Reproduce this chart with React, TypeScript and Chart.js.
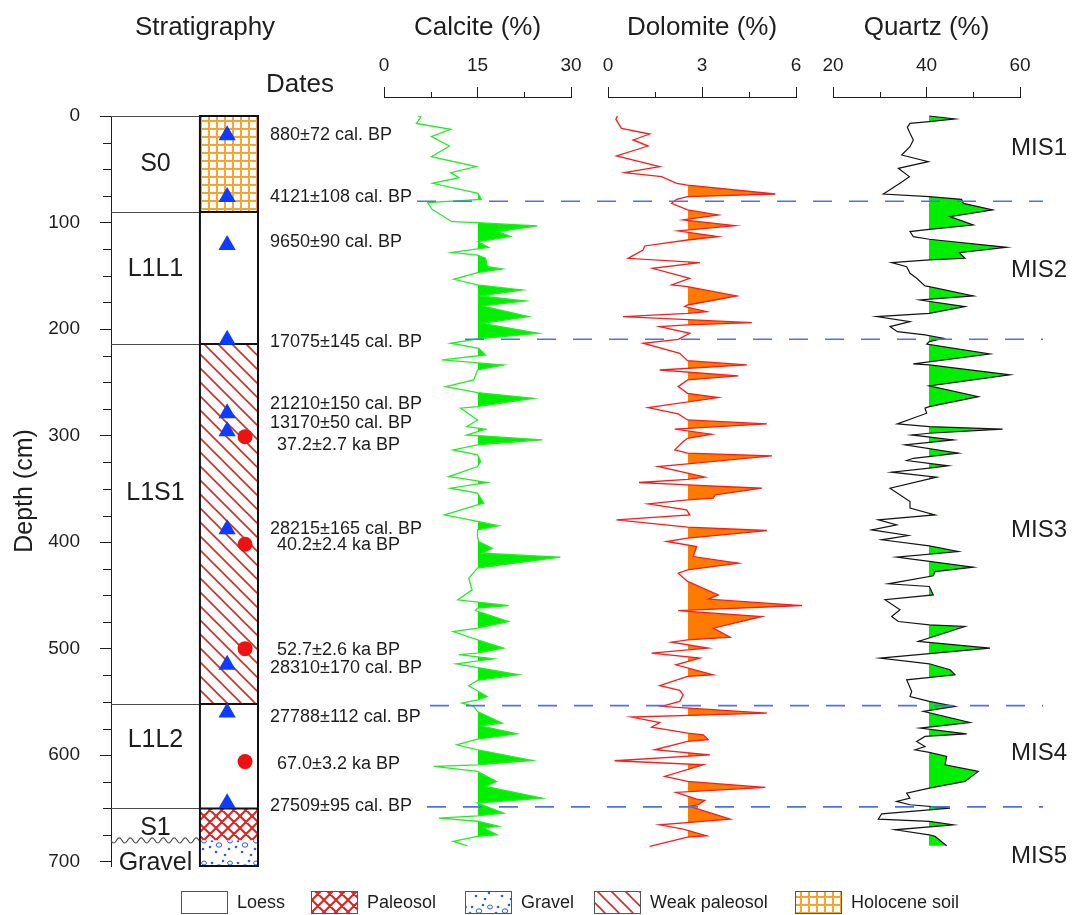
import React, { useEffect, useRef } from 'react';
import { Chart, registerables } from 'chart.js';

Chart.register(...registerables);

const FONT = '"Liberation Sans", Arial, Helvetica, sans-serif';
const INK = '#1e1e1e';
const W = 1075;
const H = 915;
Chart.defaults.font.family = FONT;
Chart.defaults.color = INK;

// ---------------- depth axis ----------------
const depthMax = 704;
const depthTickValues = [0, 25, 50, 75, 100, 125, 150, 175, 200, 225, 250, 275, 300, 325, 350, 375, 400, 425, 450, 475, 500, 525, 550, 575, 600, 625, 650, 675, 700];
const depthTickLabels = [0, 100, 200, 300, 400, 500, 600, 700];

// ---------------- stratigraphy ----------------
const layerNames = ['S0', 'L1L1', 'L1S1', 'L1L2', 'S1', 'Gravel'];
const layerTop = [0, 90, 214, 552, 650, 680];
const layerBottom = [90, 214, 552, 650, 680, 704];
const layerLithology = ['holocene', 'loess', 'weak', 'loess', 'paleosol', 'gravel'];
const layerContact = ['sharp', 'sharp', 'sharp', 'sharp', 'sharp', 'wavy'];
const layerLabelDepth = [45, 144, 354, 586, 668, 701];

// ---------------- dating ----------------
const c14Depth = [18, 76, 121, 210, 279, 296, 388, 515, 560, 645];
const c14Labels = ['880±72 cal. BP', '4121±108 cal. BP', '9650±90 cal. BP', '17075±145 cal. BP', '21210±150 cal. BP', '13170±50 cal. BP', '28215±165 cal. BP', '28310±170 cal. BP', '27788±112 cal. BP', '27509±95 cal. BP'];
const c14LabelDepth = [17.8, 76, 118.2, 212, 270.2, 288.1, 387.5, 518, 564, 647.5];
const oslDepth = [301, 402, 500, 606];
const oslLabels = ['37.2±2.7 ka BP', '40.2±2.4 ka BP', '52.7±2.6 ka BP', '67.0±3.2 ka BP'];
const oslLabelDepth = [308.7, 402.6, 501.1, 608];

// ---------------- MIS ----------------
const misLabels = ['MIS1', 'MIS2', 'MIS3', 'MIS4', 'MIS5'];
const misLabelDepth = [30, 145, 389, 598, 695];
const misBoundaryDepth = [80, 209.5, 553.5, 648.5];

// ---------------- legend ----------------
const legendLabels = ['Loess', 'Paleosol', 'Gravel', 'Weak paleosol', 'Holocene soil'];
const legendKinds = ['loess', 'paleosol', 'gravel', 'weak', 'holocene'];

// ---------------- profiles: [depth (cm), value (%)] ----------------
const calciteProfile: [number, number][] = [
  [0, 5.5], [1, 5.9], [7, 5.2], [12.5, 10.7], [19.4, 7.6], [28.2, 10.5], [38.2, 7.6], [47.5, 14.8], [53.2, 10.7], [57.9, 12.0],
  [63.2, 7.8], [72.6, 15.1], [78.2, 15.6], [81.3, 7.0], [87.6, 7.7], [99.2, 10.9], [100.1, 15.0], [103.2, 24.6], [108.5, 18.3], [113.2, 20.3],
  [118, 15.1], [123.3, 16.8], [128, 10.9], [130.5, 15.0], [133.6, 16.3], [141.4, 16.6], [143.6, 19.0], [147, 15.0], [153.3, 11.2], [158.6, 15.0],
  [163.3, 22.2], [168.9, 15.5], [173.6, 22.7], [178.3, 15.75], [188.3, 23.2], [194.6, 15.75], [204, 24.8], [209.3, 15.0], [213.3, 10.7], [218, 15.2],
  [224.3, 16.3], [229, 9.3], [233.7, 19.2], [238.4, 15.0], [247.7, 14.4], [254, 9.9], [259.6, 15.0], [265, 24.0], [272.8, 15.0], [274.3, 12.3],
  [285.3, 15.0], [291.5, 13.3], [294, 16.3], [299.4, 13.3], [304, 25.4], [308.7, 15.0], [313.4, 11.1], [318.1, 15.0], [324.3, 15.5], [329, 15.0],
  [338.4, 10.4], [344, 16.55], [349.4, 10.67], [354, 15.0], [358.7, 15.5], [363.4, 16.0], [365, 15.0], [374.4, 9.7], [380.6, 15.0], [384.7, 18.4],
  [388.5, 15.0], [394.7, 15.0], [399.4, 15.2], [405.7, 17.35], [410.4, 15.75], [414.1, 28.3], [424.4, 15.0], [433.8, 13.6], [440, 13.88], [444.8, 14.14],
  [454.1, 11.84], [459.5, 20.0], [462, 15.0], [464.2, 14.68], [474.5, 20.0], [480.7, 15.0], [483.9, 11.1], [491.7, 15.0], [499.5, 19.2], [504.2, 15.0],
  [505.5, 12.0], [509.5, 17.6], [514.2, 11.6], [524.5, 21.6], [529.8, 15.0], [534.8, 13.6], [544.9, 16.55], [548, 15.0], [551.1, 12.5], [554.2, 14.4],
  [559, 15.0], [569.9, 18.96], [572.4, 15.5], [579.9, 21.36], [584.9, 15.0], [590.2, 11.7], [594.9, 15.0], [604.9, 23.8], [609, 15.0], [610.5, 8.0],
  [615.2, 15.0], [624.6, 18.05], [629.3, 16.3], [640.3, 25.4], [644.9, 15.0], [654.3, 19.2], [657, 15.0], [659, 8.8], [662, 15.0], [666.8, 18.4],
  [668.4, 16.0], [674.7, 18.15], [676.2, 15.0], [680.9, 11.1], [685, 13.4],
];

const dolomiteProfile: [number, number][] = [
  [0, 0.3], [3, 0.25], [11.6, 0.43], [16.9, 1.33], [22.5, 0.8], [28.2, 1.28], [37.5, 0.27], [47.5, 1.65], [53.2, 0.53], [56.9, 1.71],
  [63.2, 2.19], [64.8, 2.54], [73.2, 5.34], [75.7, 2.54], [78.2, 2.19], [82, 2.03], [88.2, 2.54], [92.9, 3.52], [97.6, 2.4], [102.9, 4.06],
  [107.9, 2.24], [113.2, 3.52], [116.4, 2.54], [122, 1.17], [125.8, 1.12], [133.6, 0.64], [137.6, 2.93], [143, 1.42], [152.3, 2.61], [158.6, 2.03],
  [160.2, 2.54], [168.9, 4.11], [177.4, 2.54], [178.9, 2.45], [183.6, 3.15], [185.2, 2.54], [188.3, 0.48], [194, 4.59], [196.1, 2.54], [197.7, 1.65],
  [204, 2.61], [209.6, 2.24], [213.3, 1.12], [222.7, 2.29], [229.6, 2.54], [233.7, 4.43], [238.4, 1.65], [244, 4.16], [247.7, 2.54], [254, 2.24],
  [260.3, 2.54], [264.3, 3.52], [273.7, 1.28], [279.6, 2.24], [285.3, 2.54], [289, 5.07], [294, 2.13], [298.7, 3.31], [302.5, 2.54], [305.6, 2.4],
  [313.4, 2.13], [316.5, 2.54], [319, 5.23], [326.5, 2.54], [329, 1.6], [335.3, 2.54], [339, 3.09], [341, 2.54], [344, 0.99], [346.2, 2.54],
  [349.4, 4.91], [355.6, 3.42], [358.7, 3.36], [360.3, 2.54], [364.1, 1.28], [369.7, 2.51], [374.4, 2.61], [379.1, 0.27], [386, 2.54], [389.1, 5.07],
  [396.3, 2.54], [399.4, 1.87], [404.1, 2.83], [413.5, 2.72], [419.7, 4.16], [426, 2.54], [429.1, 2.24], [436.9, 2.54], [449.5, 3.52], [453.5, 3.2],
  [459.5, 6.19], [464.2, 2.24], [469.8, 4.91], [480.7, 3.36], [489.2, 3.9], [491.7, 2.54], [493.9, 2.03], [499.5, 3.2], [504.2, 1.39], [508.9, 2.93],
  [515.1, 2.17], [524.5, 3.36], [526.1, 2.54], [534.8, 1.65], [539.2, 2.29], [543.3, 2.4], [549.5, 2.29], [554.2, 1.71], [560.5, 5.07], [564.2, 0.75],
  [569.3, 1.65], [573.6, 1.39], [579.3, 2.54], [580.8, 3.04], [585.5, 3.2], [587.1, 2.54], [594.9, 1.49], [599.6, 3.25], [605.2, 0.21], [609, 3.04],
  [619.9, 1.81], [624.6, 2.54], [630.2, 5.02], [634.9, 2.17], [641.2, 2.83], [642.4, 3.09], [646.5, 2.88], [648.1, 2.61], [660, 3.9], [665.3, 1.65],
  [669.3, 2.4], [675.6, 3.15], [676.9, 2.54], [685.6, 1.33],
];

const quartzProfile: [number, number][] = [
  [0, 40.6], [2.8, 46.1], [5.3, 40.6], [6.9, 36.47], [10.6, 35.9], [16.3, 36.47], [22.5, 37.18], [28.8, 36.47], [36.6, 34.69], [42.9, 40.39],
  [49.1, 33.97], [56.9, 36.33], [63.2, 34.33], [73.2, 30.77], [75.7, 40.6], [78.2, 47.5], [82, 47.88], [88.2, 54.15], [94.5, 45.03], [102.3, 50.02],
  [106.4, 40.6], [108.5, 36.47], [113.2, 37.18], [115.7, 40.6], [123.3, 57.15], [128.3, 47.02], [133.6, 48.24], [135.1, 40.6], [137.6, 32.55], [141.4, 35.76],
  [147.7, 36.47], [152.3, 37.9], [159.5, 39.68], [160.2, 40.6], [168.9, 50.02], [172.7, 38.6], [178.9, 48.24], [185.2, 40.6], [188.3, 29.34], [193, 36.47],
  [197.7, 32.19], [202.4, 33.76], [205.5, 39.68], [208.6, 43.6], [211.8, 40.6], [214, 40.04], [223.4, 53.58], [232.7, 37.18], [233.7, 40.6], [243, 57.86],
  [253.4, 40.6], [263.4, 51.09], [272.8, 40.6], [274.3, 39.68], [279, 40.04], [289, 33.76], [291.5, 40.6], [294, 56.29], [297.8, 40.6], [299.4, 36.83],
  [304, 45.74], [308.7, 35.4], [316.5, 46.8], [321.3, 37.18], [323.4, 35.76], [328.4, 44.67], [330.6, 40.6], [334.3, 32.55], [339, 42.17], [349.4, 32.19],
  [361.9, 36.47], [368.1, 36.47], [374.4, 41.82], [379.1, 29.7], [383.8, 33.62], [388.5, 28.27], [393.8, 36.11], [397.8, 30.41], [403.5, 40.6], [408.8, 46.8],
  [414.1, 33.62], [418, 40.6], [423.5, 50.02], [427.6, 41.82], [431.6, 41.46], [439.1, 31.84], [441.6, 40.6], [449.5, 41.46], [454.1, 31.12], [463.5, 34.33],
  [469.8, 32.55], [474.5, 33.97], [477.6, 40.6], [479.2, 48.24], [493.2, 38.25], [499.5, 53.58], [508.9, 30.05], [514.2, 40.6], [519.8, 45.03], [524.5, 46.1],
  [529.2, 35.76], [540.2, 36.83], [544.9, 36.47], [548, 39.32], [549.5, 40.6], [554.2, 46.1], [558.9, 39.32], [569.3, 49.3], [574.6, 38.6], [579.9, 48.59],
  [582.4, 39.68], [587.1, 37.9], [591.8, 39.68], [594.9, 37.54], [597.4, 40.6], [601.2, 44.31], [609, 43.96], [615.2, 51.09], [624.6, 48.24], [630.9, 40.6],
  [635.6, 35.76], [640.3, 36.47], [643.4, 33.62], [646.5, 36.47], [649.6, 45.03], [655, 30.41], [660, 29.7], [662.2, 40.6], [665.3, 45.74], [670, 33.26],
  [674.7, 40.6], [676.2, 41.82], [685, 44.31],
];

const calciteTicks = [0, 7.5, 15, 22.5, 30];
const calciteTickLabels = [0, 15, 30];
const dolomiteTicks = [0, 1.5, 3, 4.5, 6];
const dolomiteTickLabels = [0, 3, 6];
const quartzTicks = [20, 30, 40, 50, 60];
const quartzTickLabels = [20, 40, 60];
const calciteBaseline = 15;
const dolomiteBaseline = 2.54;
const quartzBaseline = 40.6;

// ---------------- layout (pixels) ----------------
const AXIS_LINE_Y = 97;
const DEPTH0_Y = 116;
const PLOT_BOTTOM_Y = 866;
const PROFILE_YMIN = -((DEPTH0_Y - AXIS_LINE_Y) * depthMax) / (PLOT_BOTTOM_Y - DEPTH0_Y);
const STRAT_LEFT = 111;
const STRAT_RIGHT = 258;
const COL_SPLIT = 0.605;
const C14_X = 0.79;
const OSL_X = 0.912;
const LEGEND_X = [181, 311, 465, 594, 795];
const DASH_START_X = [417, 465, 430, 427];
const DASH_END_X = 1043;
const MIS_X = 1011;
const TITLE_SIZE = 26;

const profiles = [
  { title: 'Calcite (%)', data: calciteProfile, ticks: calciteTicks, labels: calciteTickLabels, base: calciteBaseline, left: 384, right: 571, line: '#22ee22', fill: '#00f000', lw: 1.3 },
  { title: 'Dolomite (%)', data: dolomiteProfile, ticks: dolomiteTicks, labels: dolomiteTickLabels, base: dolomiteBaseline, left: 608, right: 796, line: '#ff1a1a', fill: '#ff7a00', lw: 1.3 },
  { title: 'Quartz (%)', data: quartzProfile, ticks: quartzTicks, labels: quartzTickLabels, base: quartzBaseline, left: 833, right: 1020, line: '#141414', fill: '#00ee00', lw: 1.2 },
];

// ---------------- patterns ----------------
function makeTile(w: number, h: number, draw: (g: CanvasRenderingContext2D) => void) {
  const c = document.createElement('canvas');
  c.width = w;
  c.height = h;
  const g = c.getContext('2d')!;
  g.fillStyle = '#ffffff';
  g.fillRect(0, 0, w, h);
  draw(g);
  return c;
}

function buildPatterns(ctx: CanvasRenderingContext2D): Record<string, any> {
  const holocene = makeTile(8, 8, (g) => {
    g.fillStyle = '#f7a332';
    g.fillRect(0, 0, 8, 2);
    g.fillRect(0, 0, 2, 8);
  });
  const weak = makeTile(14, 14, (g) => {
    g.strokeStyle = '#e8261c';
    g.lineWidth = 1.6;
    g.beginPath();
    for (const k of [-14, 0, 14]) {
      g.moveTo(-2, -2 + k);
      g.lineTo(16, 16 + k);
    }
    g.stroke();
  });
  const paleosol = makeTile(12, 12, (g) => {
    g.strokeStyle = '#e3201b';
    g.lineWidth = 2;
    g.beginPath();
    for (const k of [-12, 0, 12]) {
      g.moveTo(-2, -2 + k);
      g.lineTo(14, 14 + k);
      g.moveTo(-2, 14 + k);
      g.lineTo(14, -2 + k);
    }
    g.stroke();
  });
  const gravel = makeTile(26, 22, (g) => {
    g.fillStyle = '#2a5cf0';
    for (const [x, y] of [[4, 5], [15, 3], [21, 13], [8, 16], [17, 19], [2, 11]]) {
      g.beginPath();
      g.arc(x, y, 1.3, 0, Math.PI * 2);
      g.fill();
    }
    g.strokeStyle = '#2a5cf0';
    g.lineWidth = 1;
    g.beginPath();
    g.ellipse(11, 9, 2.8, 2.2, 0, 0, Math.PI * 2);
    g.stroke();
    g.beginPath();
    g.ellipse(22, 5, 2.4, 2, 0, 0, Math.PI * 2);
    g.stroke();
  });
  return {
    loess: '#ffffff',
    holocene: ctx.createPattern(holocene, 'repeat'),
    weak: ctx.createPattern(weak, 'repeat'),
    paleosol: ctx.createPattern(paleosol, 'repeat'),
    gravel: ctx.createPattern(gravel, 'repeat'),
  };
}

// ---------------- plugins ----------------
const minorTicksPlugin = {
  id: 'minorTicks',
  afterDraw(chart: any, _args: any, opts: any) {
    if (!opts || !opts.values) return;
    const s = chart.scales[opts.axis];
    const ctx = chart.ctx;
    ctx.save();
    ctx.strokeStyle = opts.color;
    ctx.lineWidth = 1;
    ctx.beginPath();
    for (const v of opts.values) {
      const p = Math.round(s.getPixelForValue(v)) + 0.5;
      if (s.isHorizontal()) {
        ctx.moveTo(p, s.bottom);
        ctx.lineTo(p, s.bottom - opts.length);
      } else {
        ctx.moveTo(s.right, p);
        ctx.lineTo(s.right - opts.length, p);
      }
    }
    ctx.stroke();
    ctx.restore();
  },
};

const baselineFillPlugin = {
  id: 'baselineFill',
  beforeDatasetsDraw(chart: any, _args: any, opts: any) {
    if (!opts || opts.base === undefined) return;
    const meta = chart.getDatasetMeta(0);
    const pts = meta.data;
    if (!pts.length) return;
    const ctx = chart.ctx;
    const bx = Math.round(chart.scales.x.getPixelForValue(opts.base));
    const area = chart.chartArea;
    ctx.save();
    ctx.beginPath();
    ctx.rect(bx, Math.floor(area.top), W - bx, Math.ceil(area.bottom - area.top));
    ctx.clip();
    ctx.beginPath();
    ctx.moveTo(bx - 2, pts[0].y);
    for (const p of pts) ctx.lineTo(p.x, p.y);
    ctx.lineTo(bx - 2, pts[pts.length - 1].y);
    ctx.closePath();
    ctx.fillStyle = opts.color;
    ctx.fill();
    ctx.restore();
  },
};

function text(ctx: CanvasRenderingContext2D, s: string, x: number, y: number, size: number, align: CanvasTextAlign = 'left') {
  ctx.font = `${size}px ${FONT}`;
  ctx.fillStyle = INK;
  ctx.textAlign = align;
  ctx.textBaseline = 'middle';
  ctx.fillText(s, x, y);
}

function stratPlugin(patterns: Record<string, any>) {
  return {
    id: 'strat',
    beforeDatasetsDraw(chart: any) {
      const ctx: CanvasRenderingContext2D = chart.ctx;
      const xs = chart.scales.x;
      const ys = chart.scales.y;
      const xL = xs.getPixelForValue(0);
      const xM = xs.getPixelForValue(COL_SPLIT);
      const xR = xs.getPixelForValue(1);
      ctx.save();
      layerTop.forEach((t, i) => {
        const y1 = ys.getPixelForValue(t);
        const y2 = ys.getPixelForValue(layerBottom[i]);
        ctx.fillStyle = patterns[layerLithology[i]];
        ctx.fillRect(xM, y1, xR - xM, y2 - y1);
      });
      ctx.strokeStyle = '#4a4a4a';
      ctx.lineWidth = 1.1;
      layerTop.forEach((t, i) => {
        const y = ys.getPixelForValue(t);
        ctx.beginPath();
        if (layerContact[i] === 'wavy') {
          for (let x = xL; x <= xM; x += 1) {
            const yy = y + 2.6 * Math.sin(((x - xL) / 11) * Math.PI * 2);
            if (x === xL) ctx.moveTo(x, yy);
            else ctx.lineTo(x, yy);
          }
        } else {
          ctx.moveTo(xL, Math.round(y) + 0.5);
          ctx.lineTo(xM, Math.round(y) + 0.5);
        }
        ctx.stroke();
      });
      ctx.strokeStyle = '#111';
      ctx.lineWidth = 2;
      layerTop.forEach((t, i) => {
        if (layerContact[i] === 'wavy') return;
        const y = ys.getPixelForValue(t);
        ctx.beginPath();
        ctx.moveTo(xM, y);
        ctx.lineTo(xR, y);
        ctx.stroke();
      });
      const yTop = ys.getPixelForValue(layerTop[0]);
      const yBot = ys.getPixelForValue(layerBottom[layerBottom.length - 1]);
      ctx.strokeRect(xM, yTop, xR - xM, yBot - yTop);
      layerNames.forEach((n, i) => {
        text(ctx, n, (xL + xM) / 2, ys.getPixelForValue(layerLabelDepth[i]), 25, 'center');
      });
      ctx.restore();
    },
    afterDraw(chart: any) {
      const ctx: CanvasRenderingContext2D = chart.ctx;
      const xs = chart.scales.x;
      const ys = chart.scales.y;
      const xR = xs.getPixelForValue(1);
      ctx.save();
      text(ctx, 'Stratigraphy', 205, 28, TITLE_SIZE, 'center');
      text(ctx, 'Dates', 266, 85, TITLE_SIZE, 'left');
      c14Labels.forEach((s, i) => text(ctx, s, xR + 12, ys.getPixelForValue(c14LabelDepth[i]), 18));
      oslLabels.forEach((s, i) => text(ctx, s, xR + 19, ys.getPixelForValue(oslLabelDepth[i]), 18));
      legendLabels.forEach((s, i) => {
        const x = LEGEND_X[i];
        const y = 891;
        ctx.fillStyle = patterns[legendKinds[i]];
        ctx.fillRect(x, y, 46, 22);
        ctx.strokeStyle = '#555';
        ctx.lineWidth = 1;
        ctx.strokeRect(x + 0.5, y + 0.5, 46, 22);
        text(ctx, s, x + 56, y + 12, 18);
      });
      ctx.restore();
    },
  };
}

const overlayPlugin = {
  id: 'overlay',
  afterDatasetsDraw(chart: any) {
    const ctx: CanvasRenderingContext2D = chart.ctx;
    const ys = chart.scales.y;
    ctx.save();
    ctx.strokeStyle = '#4d70ee';
    ctx.lineWidth = 1.6;
    ctx.setLineDash([19, 17]);
    misBoundaryDepth.forEach((d, i) => {
      const y = ys.getPixelForValue(d);
      ctx.beginPath();
      ctx.moveTo(DASH_START_X[i], y);
      ctx.lineTo(DASH_END_X, y);
      ctx.stroke();
    });
    ctx.setLineDash([]);
    misLabels.forEach((s, i) => text(ctx, s, MIS_X, ys.getPixelForValue(misLabelDepth[i]), 24));
    ctx.restore();
  },
};

// ---------------- configs ----------------
function stratConfig(patterns: Record<string, any>): any {
  const minor = depthTickValues.filter((v) => !depthTickLabels.includes(v));
  return {
    type: 'scatter',
    data: {
      datasets: [
        {
          data: c14Depth.map((d) => ({ x: C14_X, y: d })),
          pointStyle: 'triangle',
          pointRadius: 10,
          backgroundColor: '#0b3cff',
          borderWidth: 0,
        },
        {
          data: oslDepth.map((d) => ({ x: OSL_X, y: d })),
          pointStyle: 'circle',
          pointRadius: 7.5,
          backgroundColor: '#ee1111',
          borderWidth: 0,
        },
      ],
    },
    plugins: [stratPlugin(patterns), minorTicksPlugin],
    options: {
      animation: false,
      responsive: false,
      events: [],
      layout: { padding: { left: 0, right: W - STRAT_RIGHT, top: DEPTH0_Y, bottom: H - PLOT_BOTTOM_Y } },
      plugins: {
        legend: { display: false },
        tooltip: { enabled: false },
        minorTicks: { axis: 'y', values: minor, length: 8, color: INK },
      },
      scales: {
        x: { type: 'linear', min: 0, max: 1, display: false },
        y: {
          type: 'linear',
          reverse: true,
          min: 0,
          max: depthMax,
          afterFit: (s: any) => {
            s.width = STRAT_LEFT;
          },
          afterBuildTicks: (s: any) => {
            s.ticks = depthTickValues.map((v) => ({ value: v }));
          },
          ticks: {
            autoSkip: false,
            padding: 20,
            font: { size: 19 },
            color: INK,
            callback: (v: number) => (depthTickLabels.includes(v) ? String(v) : ''),
          },
          grid: {
            drawOnChartArea: false,
            drawTicks: true,
            tickLength: 11,
            tickColor: (c: any) => (c.tick && depthTickLabels.includes(c.tick.value) ? INK : 'rgba(0,0,0,0)'),
          },
          border: { display: true, color: INK, width: 1 },
          title: { display: true, text: 'Depth (cm)', font: { size: 25 }, color: INK, padding: { top: 10, bottom: 0 } },
        },
      },
    },
  };
}

function profileConfig(p: any, withOverlay: boolean): any {
  const minor = p.ticks.filter((v: number) => !p.labels.includes(v));
  return {
    type: 'line',
    data: {
      datasets: [
        {
          data: p.data.map(([d, v]: [number, number]) => ({ x: v, y: d })),
          borderColor: p.line,
          borderWidth: p.lw,
          pointRadius: 0,
          fill: false,
          tension: 0,
          clip: false,
        },
      ],
    },
    plugins: withOverlay ? [baselineFillPlugin, minorTicksPlugin, overlayPlugin] : [baselineFillPlugin, minorTicksPlugin],
    options: {
      animation: false,
      responsive: false,
      events: [],
      indexAxis: 'y',
      layout: { padding: { left: p.left, right: W - p.right, top: 0, bottom: H - PLOT_BOTTOM_Y } },
      plugins: {
        legend: { display: false },
        tooltip: { enabled: false },
        baselineFill: { base: p.base, color: p.fill },
        minorTicks: { axis: 'x', values: minor, length: 5, color: INK },
      },
      scales: {
        x: {
          type: 'linear',
          position: 'top',
          min: p.ticks[0],
          max: p.ticks[p.ticks.length - 1],
          afterFit: (s: any) => {
            s.height = AXIS_LINE_Y;
          },
          afterBuildTicks: (s: any) => {
            s.ticks = p.ticks.map((v: number) => ({ value: v }));
          },
          ticks: {
            autoSkip: false,
            maxRotation: 0,
            padding: 10,
            font: { size: 19 },
            color: INK,
            callback: (v: number) => (p.labels.includes(v) ? String(v) : ''),
          },
          grid: {
            drawOnChartArea: false,
            drawTicks: true,
            tickLength: 10,
            tickColor: (c: any) => (c.tick && p.labels.includes(c.tick.value) ? INK : 'rgba(0,0,0,0)'),
          },
          border: { display: true, color: INK, width: 1 },
          title: { display: true, text: p.title, font: { size: TITLE_SIZE }, color: INK, padding: { top: 12, bottom: 0 } },
        },
        y: { type: 'linear', display: false, reverse: true, min: PROFILE_YMIN, max: depthMax },
      },
    },
  };
}

export default function App() {
  const stratRef = useRef<HTMLCanvasElement>(null);
  const calRef = useRef<HTMLCanvasElement>(null);
  const dolRef = useRef<HTMLCanvasElement>(null);
  const qzRef = useRef<HTMLCanvasElement>(null);

  useEffect(() => {
    const sc = stratRef.current!;
    const patterns = buildPatterns(sc.getContext('2d')!);
    const charts = [
      new Chart(sc, stratConfig(patterns)),
      new Chart(calRef.current!, profileConfig(profiles[0], false)),
      new Chart(dolRef.current!, profileConfig(profiles[1], false)),
      new Chart(qzRef.current!, profileConfig(profiles[2], true)),
    ];
    return () => charts.forEach((c) => c.destroy());
  }, []);

  const cs: React.CSSProperties = { position: 'absolute', left: 0, top: 0 };
  return (
    <div style={{ position: 'absolute', left: 0, top: 0, width: W, height: H, background: '#ffffff', overflow: 'hidden' }}>
      <canvas ref={stratRef} width={W} height={H} style={cs} />
      <canvas ref={calRef} width={W} height={H} style={cs} />
      <canvas ref={dolRef} width={W} height={H} style={cs} />
      <canvas ref={qzRef} width={W} height={H} style={cs} />
    </div>
  );
}
